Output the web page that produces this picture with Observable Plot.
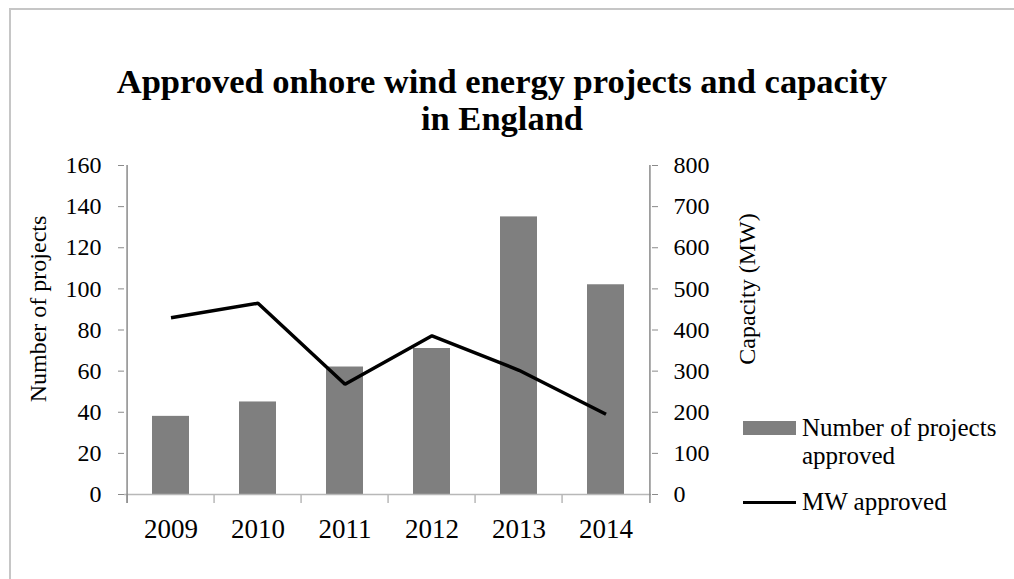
<!DOCTYPE html>
<html>
<head>
<meta charset="utf-8">
<script src="https://cdn.jsdelivr.net/npm/d3@7"></script>
<script src="https://cdn.jsdelivr.net/npm/@observablehq/plot@0.6"></script>
<style>
  body { margin: 0; background: #fff; }
  #wrap { position: relative; width: 1014px; height: 579px; overflow: hidden; font-family: "Liberation Serif", serif; color: #000; }
  #frame { position: absolute; left: 9px; top: 8px; width: 1200px; height: 800px; border-left: 2px solid #c6c6c6; border-top: 2px solid #c6c6c6; }
  #chart { position: absolute; left: 0; top: 0; }
  #title { position: absolute; left: 0; top: 63px; width: 1004px; text-align: center; font-weight: bold; font-size: 34.5px; line-height: 37px; }
  .legend-text { position: absolute; left: 802px; font-size: 25px; line-height: 28px; white-space: nowrap; }
  .swatch-bar { position: absolute; left: 743px; top: 421px; width: 53px; height: 14px; background: #7f7f7f; }
  .swatch-line { position: absolute; left: 743px; top: 501px; width: 53px; height: 3px; background: #000; }
</style>
</head>
<body>
<div id="wrap">
  <div id="frame"></div>
  <div id="chart"></div>
  <div id="title">Approved onhore wind energy projects and capacity<br>in England</div>
  <div class="swatch-bar"></div>
  <div class="legend-text" style="top:414px">Number of projects<br>approved</div>
  <div class="swatch-line"></div>
  <div class="legend-text" style="top:488px">MW approved</div>
</div>
<script>
// Approved onshore wind projects in England, by year
const years = ["2009", "2010", "2011", "2012", "2013", "2014"];
const projectsApproved = [38, 45, 62, 71, 135, 102];
const mwApproved = [430, 465, 268, 386, 302, 195];

// Axis ticks: projects on the left, capacity (MW) on the right
const projectTicks = [0, 20, 40, 60, 80, 100, 120, 140, 160];
const capacityTicks = [0, 100, 200, 300, 400, 500, 600, 700, 800];

const rows = years.map((year, i) => ({ year, projects: projectsApproved[i], mw: mwApproved[i] }));

// Layout
const width = 1014, height = 579;
const marginLeft = 124, marginRight = 363, marginTop = 165, marginBottom = 85;
const step = (width - marginLeft - marginRight) / years.length;
const projMax = projectTicks[projectTicks.length - 1];
const capMax = capacityTicks[capacityTicks.length - 1];
const ratio = capMax / projMax; // MW per project-axis unit
const pxPerUnit = (height - marginTop - marginBottom) / projMax;
const tickLen = 9 / pxPerUnit; // category tick length below the baseline, in y units

const axisGrey = "#8a8a8a";

const chart = Plot.plot({
  width, height, marginLeft, marginRight, marginTop, marginBottom,
  style: { fontFamily: "Liberation Serif, serif", fontSize: "24px", color: "#000", background: "transparent" },
  x: { domain: years, paddingInner: 0.58, paddingOuter: 0.29, axis: null },
  y: { domain: [0, projMax], axis: null },
  marks: [
    // bars: number of projects
    Plot.barY(rows, { x: "year", y: "projects", fill: "#7f7f7f" }),
    // baseline
    Plot.ruleY([0], { stroke: "#b8b8b8", strokeWidth: 1.5 }),
    // category boundary ticks
    Plot.ruleX(years, { x: d => d, dx: -step / 2, y1: -tickLen, y2: 0, stroke: "#b8b8b8", strokeWidth: 1.5 }),
    // left and right axis lines
    Plot.ruleX([years[0]], { x: d => d, dx: -step / 2, y1: -tickLen, y2: projMax, stroke: axisGrey, strokeWidth: 1.5 }),
    Plot.ruleX([years[years.length - 1]], { x: d => d, dx: step / 2, y1: -tickLen, y2: projMax, stroke: axisGrey, strokeWidth: 1.5 }),
    // left axis: number of projects
    Plot.axisY(projectTicks, { anchor: "left", tickSize: 6, tickPadding: 17, stroke: axisGrey, fontSize: 24, label: null }),
    // right axis: capacity in MW, expressed on the same y scale
    Plot.axisY(capacityTicks.map(v => v / ratio), {
      anchor: "right", tickSize: 6, tickPadding: 16, stroke: axisGrey, fontSize: 24, label: null,
      tickFormat: d => String(Math.round(d * ratio))
    }),
    // category labels
    Plot.axisX({ anchor: "bottom", tickSize: 0, tickPadding: 24, fontSize: 27, label: null }),
    // line: MW approved
    Plot.line(rows, { x: "year", y: d => d.mw / ratio, stroke: "#000", strokeWidth: 3.5, strokeLinejoin: "miter", strokeLinecap: "butt" }),
    // axis titles
    Plot.text(["Number of projects"], { frameAnchor: "left", textAnchor: "middle", lineAnchor: "middle", rotate: -90, dx: -86, dy: -21, fontSize: 24 }),
    Plot.text(["Capacity (MW)"], { frameAnchor: "right", textAnchor: "middle", lineAnchor: "middle", rotate: -90, dx: 96, dy: -41, fontSize: 24 })
  ]
});

document.getElementById("chart").appendChild(chart);
</script>
</body>
</html>
